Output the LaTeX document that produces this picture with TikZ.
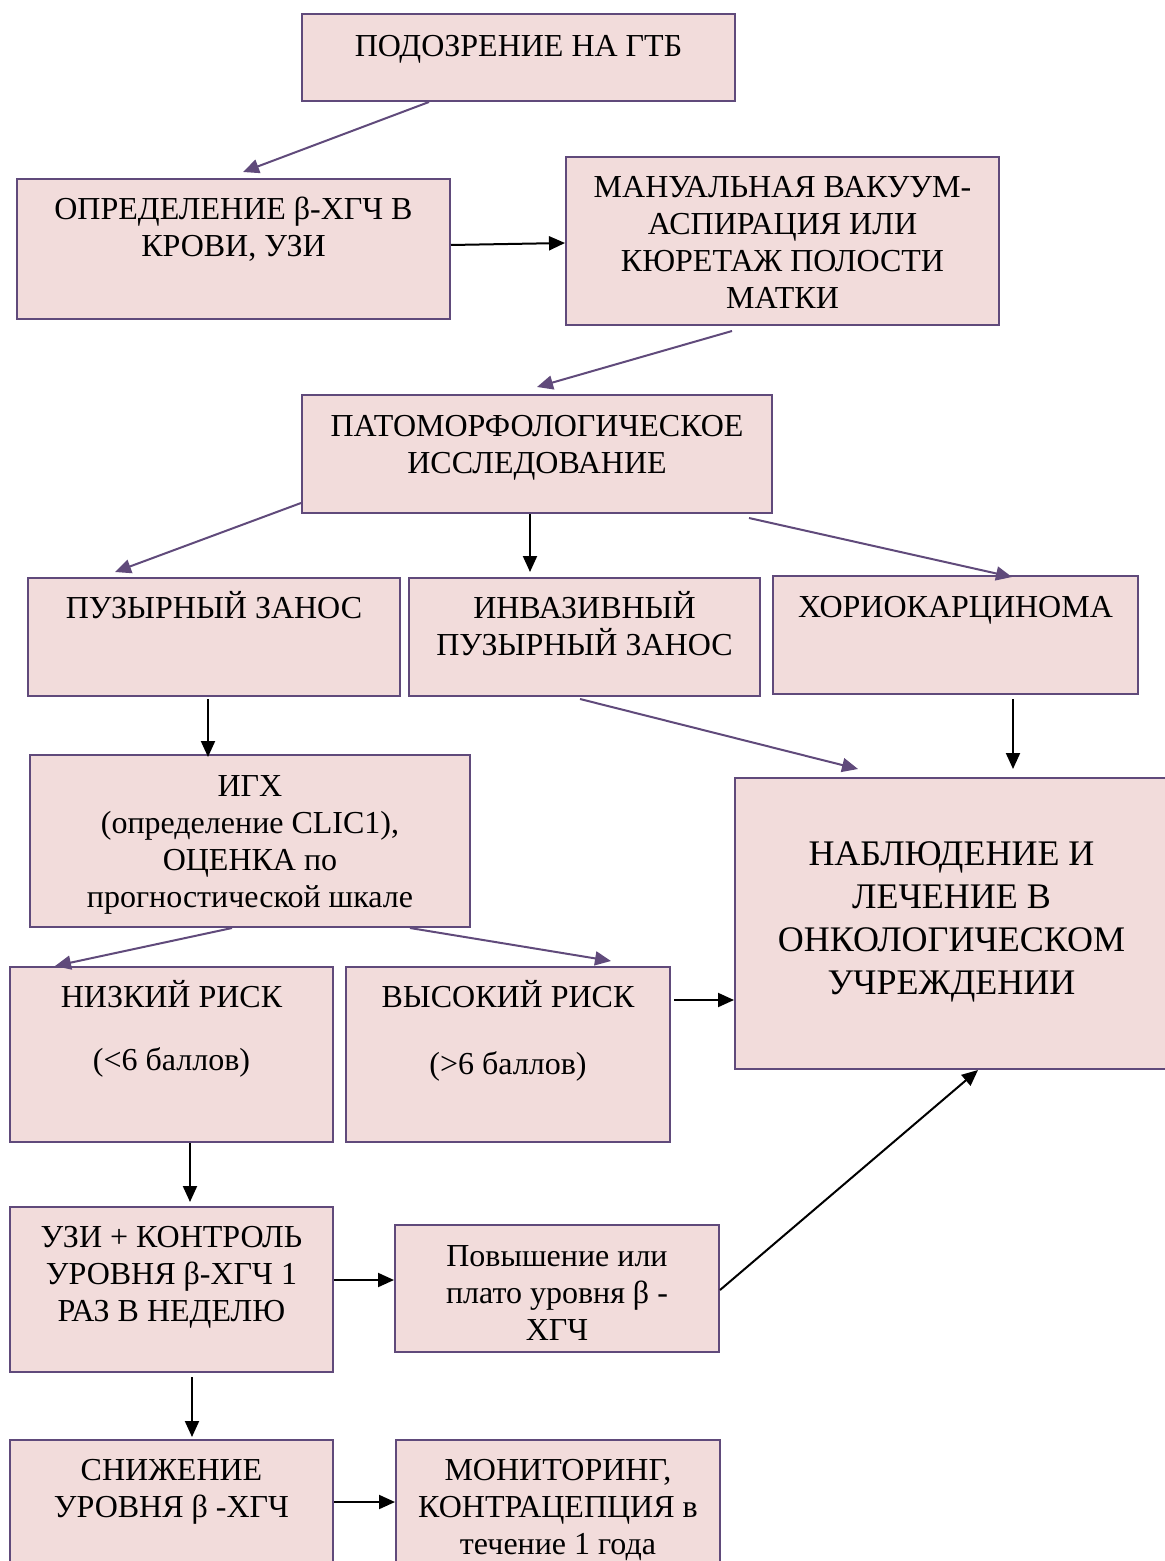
\documentclass[tikz,border=0pt]{standalone}
\usepackage{fontspec}
\setmainfont{Liberation Serif}
\usepackage{tikz}
\usetikzlibrary{arrows.meta, positioning}
\definecolor{roze}{HTML}{F2DCDB}
\definecolor{paars}{HTML}{604A7B}

\begin{document}
\begin{tikzpicture}[x=0.5pt, y=-0.5pt, >={Triangle[length=8pt,width=7pt]},
    blok/.style={draw=paars, fill=roze, line width=1pt, inner sep=0pt},
    tekst/.style={align=center, inner sep=0pt, font=\fontsize{16pt}{18.5pt}\selectfont, execute at begin node=\strut},
    pijl/.style={->, paars, line width=1pt},
    zwart/.style={->, black, line width=1pt}]
      \useasboundingbox (0,0) rectangle (1165,1561);
      \clip (0,0) rectangle (1165,1561);
      % boxes
      \node[blok, minimum width=216.5pt, minimum height=43.5pt] (podozr) at (518.5,57.5) {};
      \node[tekst, below=8.5pt of podozr.north] (podozr-t) {ПОДОЗРЕНИЕ НА ГТБ};
      \node[blok, minimum width=216.5pt, minimum height=70pt] (opred) at (233.5,249) {};
      \node[tekst, below=9.5pt of opred.north] (opred-t) {ОПРЕДЕЛЕНИЕ β-ХГЧ В\\КРОВИ, УЗИ};
      \node[blok, minimum width=216.5pt, minimum height=84pt] (aspir) at (782.5,241) {};
      \node[tekst, below=10pt of aspir.north] (aspir-t) {МАНУАЛЬНАЯ ВАКУУМ-\\АСПИРАЦИЯ ИЛИ\\КЮРЕТАЖ ПОЛОСТИ\\МАТКИ};
      \node[blok, minimum width=235pt, minimum height=59pt] (patom) at (537,454) {};
      \node[tekst, below=10.5pt of patom.north] (patom-t) {ПАТОМОРФОЛОГИЧЕСКОЕ\\ИССЛЕДОВАНИЕ};
      \node[blok, minimum width=186pt, minimum height=59pt] (puzyr) at (214,637) {};
      \node[tekst, below=7pt of puzyr.north] (puzyr-t) {ПУЗЫРНЫЙ ЗАНОС};
      \node[blok, minimum width=175.5pt, minimum height=59pt] (invaz) at (584.5,637) {};
      \node[tekst, below=7pt of invaz.north] (invaz-t) {ИНВАЗИВНЫЙ\\ПУЗЫРНЫЙ ЗАНОС};
      \node[blok, minimum width=182.5pt, minimum height=59pt] (horio) at (955.5,635) {};
      \node[tekst, below=8pt of horio.north] (horio-t) {ХОРИОКАРЦИНОМА};
      \node[blok, minimum width=220pt, minimum height=86pt] (igh) at (250,841) {};
      \node[tekst, below=10.5pt of igh.north] (igh-t) {ИГХ\\(определение CLIC1),\\ОЦЕНКА по\\прогностической шкале};
      \node[blok, minimum width=216.5pt, minimum height=145.5pt] (nabl) at (951.5,923.5) {};
      \node[tekst, font=\fontsize{18pt}{21.5pt}\selectfont, below=31.9pt of nabl.north] (nabl-t) {НАБЛЮДЕНИЕ И\\ЛЕЧЕНИЕ В\\ОНКОЛОГИЧЕСКОМ\\УЧРЕЖДЕНИИ};
      \node[blok, minimum width=161.5pt, minimum height=87.5pt] (nizk) at (171.5,1054.5) {};
      \node[tekst, below=7pt of nizk.north] (nizk-t) {НИЗКИЙ РИСК\\[13pt](<6 баллов)};
      \node[blok, minimum width=162pt, minimum height=87.5pt] (vysok) at (508,1054.5) {};
      \node[tekst, below=7pt of vysok.north] (vysok-t) {ВЫСОКИЙ РИСК\\[15pt](>6 баллов)};
      \node[blok, minimum width=161.5pt, minimum height=82.5pt] (uzi) at (171.5,1289.5) {};
      \node[tekst, below=10pt of uzi.north] (uzi-t) {УЗИ + КОНТРОЛЬ\\УРОВНЯ β-ХГЧ 1\\РАЗ В НЕДЕЛЮ};
      \node[blok, minimum width=162pt, minimum height=63.5pt] (povysh) at (557,1288.5) {};
      \node[tekst, below=10.5pt of povysh.north] (povysh-t) {Повышение или\\плато уровня β -\\ХГЧ};
      \node[blok, minimum width=161.5pt, minimum height=75pt] (snizh) at (171.5,1515) {};
      \node[tekst, below=10pt of snizh.north] (snizh-t) {СНИЖЕНИЕ\\УРОВНЯ β -ХГЧ};
      \node[blok, minimum width=162pt, minimum height=75pt] (monit) at (558,1515) {};
      \node[tekst, below=10pt of monit.north] (monit-t) {МОНИТОРИНГ,\\КОНТРАЦЕПЦИЯ в\\течение 1 года};
      % arrows
      \draw[pijl] ([xshift=-44.75pt]podozr.south) -- ([xshift=4.75pt,yshift=3pt]opred.north);
      \draw[zwart] ([yshift=2pt]opred.east) -- ([yshift=-1pt]aspir.west);
      \draw[pijl] ([xshift=-25.25pt,yshift=-2.5pt]aspir.south) -- ([yshift=3.5pt]patom.north);
      \draw[pijl] ([yshift=-24.5pt]patom.west) -- ([xshift=-49.5pt,yshift=2.5pt]puzyr.north);
      \draw[zwart] ([xshift=-3.5pt]patom.south) -- ([xshift=-27.25pt,yshift=2.5pt]invaz.north);
      \draw[pijl] ([xshift=-12pt,yshift=-2pt]patom.south east) -- ([xshift=28.25pt,yshift=-1pt]horio.north);
      \draw[zwart] ([xshift=-3pt,yshift=-1pt]puzyr.south) -- ([xshift=-21pt,yshift=-1.5pt]igh.north);
      \draw[pijl] ([xshift=-2.25pt,yshift=-1pt]invaz.south) -- ([xshift=-46.75pt,yshift=4pt]nabl.north);
      \draw[zwart] ([xshift=28.75pt,yshift=-2pt]horio.south) -- ([xshift=30.75pt,yshift=4pt]nabl.north);
      \draw[pijl] ([xshift=-9pt]igh.south) -- ([xshift=-58.25pt]nizk.north);
      \draw[pijl] ([xshift=80pt]igh.south) -- ([xshift=51.5pt,yshift=2.5pt]vysok.north);
      \draw[zwart] ([xshift=1.5pt,yshift=27.25pt]vysok.east) -- ([yshift=-38.25pt]nabl.west);
      \draw[zwart] ([xshift=9.25pt]nizk.south) -- ([xshift=9.25pt,yshift=2pt]uzi.north);
      \draw[zwart] ([yshift=4.75pt]uzi.east) -- ([yshift=4.25pt]povysh.west);
      \draw[zwart] ([yshift=-0.75pt]povysh.east) -- ([xshift=13.25pt]nabl.south);
      \draw[zwart] ([xshift=10.25pt,yshift=-2pt]uzi.south) -- ([xshift=10.25pt,yshift=1pt]snizh.north);
      \draw[zwart] ([yshift=6.5pt]snizh.east) -- ([yshift=6.5pt]monit.west);
    \end{tikzpicture}
\end{document}
